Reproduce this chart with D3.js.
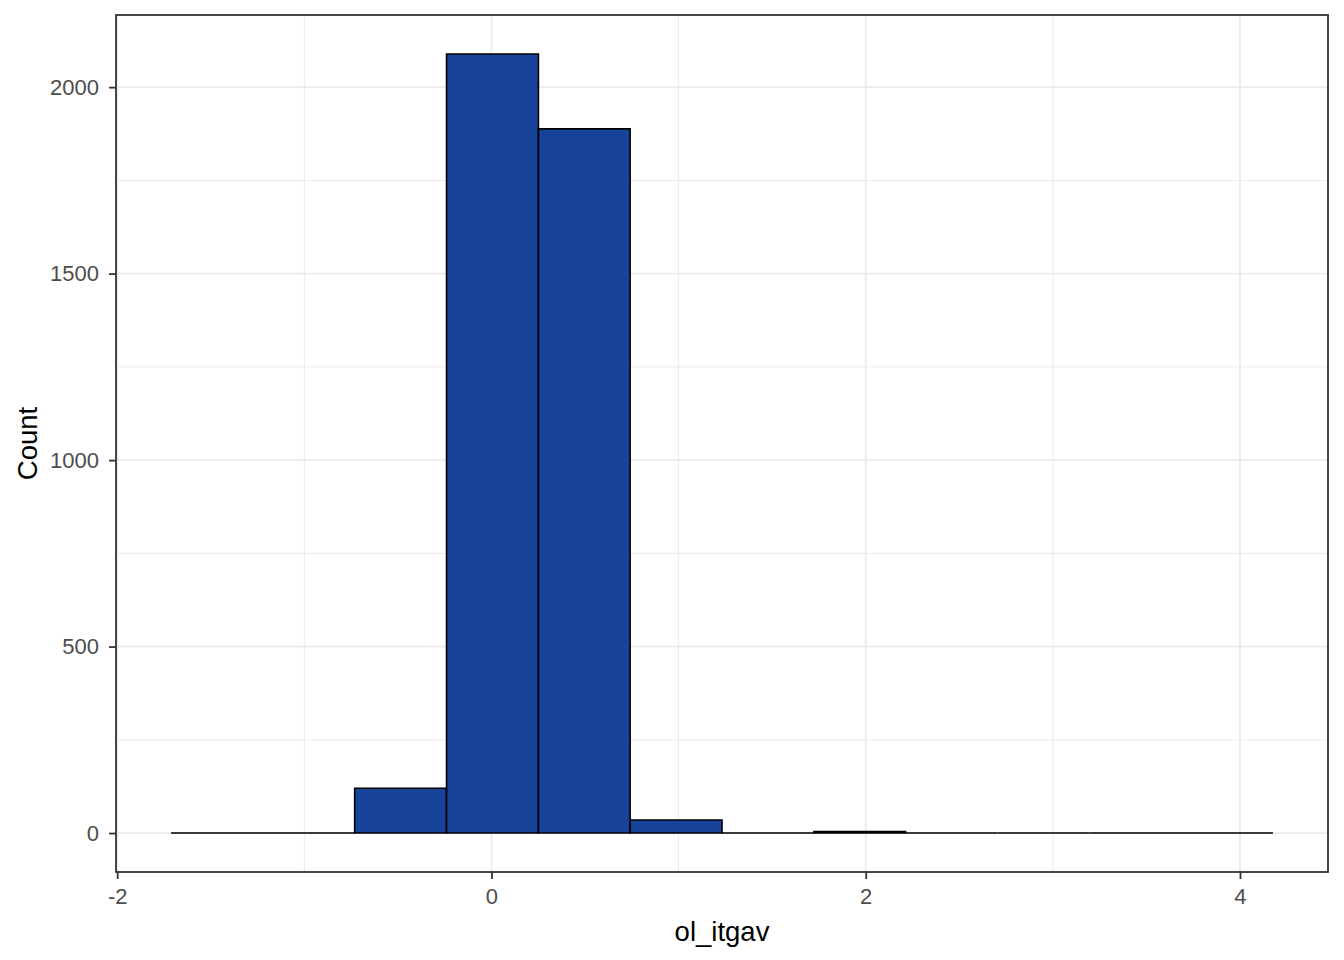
<!DOCTYPE html>
<html>
<head>
<meta charset="utf-8">
<script src="https://cdn.jsdelivr.net/npm/d3@7"></script>
<style>
body { margin: 0; background: #fff; }
svg { display: block; }
</style>
</head>
<body>
<svg id="chart" width="1344" height="960"></svg>
<script>
// Histogram bin edges (ol_itgav) and counts
const binEdges = [-1.712, -1.221, -0.731, -0.240, 0.251, 0.741, 1.232, 1.723, 2.213, 2.704, 3.195, 3.685, 4.176];
const binCounts = [0, 0, 120, 2089, 1888, 35, 0, 4, 0, 0, 0, 0];
const xTicks = [-2, 0, 2, 4];
const xMinor = [-1, 1, 3];
const yTicks = [0, 500, 1000, 1500, 2000];
const yMinor = [250, 750, 1250, 1750];
const xTitle = "ol_itgav";
const yTitle = "Count";

(function () {
const bins = binCounts.map((c, i) => ({ x0: binEdges[i], x1: binEdges[i + 1], count: c }));

const svg = d3.select("#chart");
const pL = 116, pR = 1328, pT = 15, pB = 872;
const font = "Liberation Sans, Arial, sans-serif";

const xMinD = binEdges[0], xMaxD = binEdges[binEdges.length - 1];
const xPad = (xMaxD - xMinD) * 0.05;
const x = d3.scaleLinear().domain([xMinD - xPad, xMaxD + xPad]).range([pL, pR]);
const yMax = d3.max(binCounts);
const yPad = yMax * 0.05;
const y = d3.scaleLinear().domain([-yPad, yMax + yPad]).range([pB, pT]);

svg.append("rect").attr("x", pL).attr("y", pT).attr("width", pR - pL).attr("height", pB - pT).attr("fill", "#fff");

const grid = svg.append("g");
grid.selectAll(".xminor").data(xMinor).join("line")
  .attr("x1", d => x(d)).attr("x2", d => x(d)).attr("y1", pT).attr("y2", pB)
  .attr("stroke", "#EBEBEB").attr("stroke-width", 1);
grid.selectAll(".yminor").data(yMinor).join("line")
  .attr("y1", d => y(d)).attr("y2", d => y(d)).attr("x1", pL).attr("x2", pR)
  .attr("stroke", "#EBEBEB").attr("stroke-width", 1);
grid.selectAll(".xmajor").data(xTicks).join("line")
  .attr("x1", d => x(d)).attr("x2", d => x(d)).attr("y1", pT).attr("y2", pB)
  .attr("stroke", "#EBEBEB").attr("stroke-width", 1.8);
grid.selectAll(".ymajor").data(yTicks).join("line")
  .attr("y1", d => y(d)).attr("y2", d => y(d)).attr("x1", pL).attr("x2", pR)
  .attr("stroke", "#EBEBEB").attr("stroke-width", 1.8);

// bars drawn as closed paths so zero-count bins still show their outline
svg.append("g").selectAll("path").data(bins).join("path")
  .attr("d", d => {
    const p = d3.path();
    const xa = x(d.x0), xb = x(d.x1), ya = y(d.count), yb = y(0);
    p.moveTo(xa, yb); p.lineTo(xa, ya); p.lineTo(xb, ya); p.lineTo(xb, yb); p.closePath();
    return p.toString();
  })
  .attr("fill", "#174499")
  .attr("stroke", "#000")
  .attr("stroke-width", 1.6)
  .attr("stroke-linejoin", "miter");

svg.append("rect").attr("x", pL).attr("y", pT).attr("width", pR - pL).attr("height", pB - pT)
  .attr("fill", "none").attr("stroke", "#333333").attr("stroke-width", 1.8);

const xAxis = svg.append("g").attr("transform", `translate(0,${pB})`)
  .call(d3.axisBottom(x).tickValues(xTicks).tickSize(7).tickPadding(9).tickFormat(d => d < 0 ? "-" + Math.abs(d) : String(d)));
xAxis.select(".domain").remove();
xAxis.selectAll("line").attr("stroke", "#333333").attr("stroke-width", 1.8);
xAxis.selectAll("text").attr("fill", "#4D4D4D").style("font-family", font).style("font-size", "22px");

const yAxis = svg.append("g").attr("transform", `translate(${pL},0)`)
  .call(d3.axisLeft(y).tickValues(yTicks).tickSize(7).tickPadding(10).tickFormat(d3.format("d")));
yAxis.select(".domain").remove();
yAxis.selectAll("line").attr("stroke", "#333333").attr("stroke-width", 1.8);
yAxis.selectAll("text").attr("fill", "#4D4D4D").style("font-family", font).style("font-size", "22px");

svg.append("text").attr("x", (pL + pR) / 2).attr("y", 941)
  .attr("text-anchor", "middle").attr("fill", "#000")
  .style("font-family", font).style("font-size", "27.5px")
  .text(xTitle);
svg.append("text").attr("transform", `translate(37,${(pT + pB) / 2}) rotate(-90)`)
  .attr("text-anchor", "middle").attr("fill", "#000")
  .style("font-family", font).style("font-size", "27.5px")
  .text(yTitle);
})();
</script>
</body>
</html>
